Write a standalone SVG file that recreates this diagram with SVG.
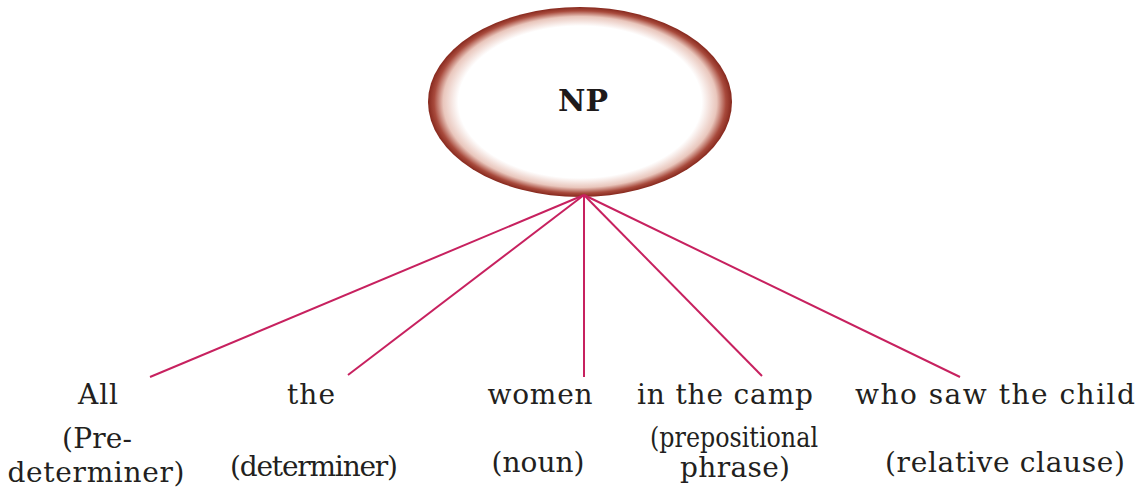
<svg xmlns="http://www.w3.org/2000/svg" width="1143" height="494" viewBox="0 0 1143 494">
<defs>
<radialGradient id="g" cx="0.5" cy="0.5" r="0.5">
<stop offset="0" stop-color="#ffffff"/>
<stop offset="0.8" stop-color="#ffffff"/>
<stop offset="0.9" stop-color="#e9c6bc"/>
<stop offset="0.96" stop-color="#a84a3c"/>
<stop offset="1" stop-color="#86281d"/>
</radialGradient>
<style>
.lbl{font-family:"DejaVu Serif","Liberation Serif",serif;font-size:28px;fill:#231f20;text-anchor:middle}
.np{font-family:"DejaVu Serif","Liberation Serif",serif;font-size:30px;font-weight:bold;fill:#1e1a1a;text-anchor:middle}
.c{stroke:#c7215f;stroke-width:2;fill:none}
</style>
</defs>
<g id="np">
<ellipse cx="580" cy="102" rx="152" ry="95" fill="url(#g)"/>
<text class="np" x="583" y="111">NP</text>
</g>
<g id="connectors">
<line class="c" x1="584" y1="195" x2="150" y2="377"/>
<line class="c" x1="584" y1="195" x2="348" y2="375"/>
<line class="c" x1="584" y1="195" x2="584" y2="377"/>
<line class="c" x1="584" y1="195" x2="762" y2="376"/>
<line class="c" x1="584" y1="195" x2="960" y2="377"/>
</g>
<g id="all">
<text class="lbl" x="98" y="404" textLength="40" lengthAdjust="spacing">All</text>
<text class="lbl" x="97" y="448" textLength="70" lengthAdjust="spacing">(Pre-</text>
<text class="lbl" x="96" y="482" textLength="177" lengthAdjust="spacing">determiner)</text>
</g>
<g id="the">
<text class="lbl" x="311" y="404" textLength="48" lengthAdjust="spacing">the</text>
<text class="lbl" x="314" y="476" textLength="168" lengthAdjust="spacing">(determiner)</text>
</g>
<g id="women">
<text class="lbl" x="540" y="404" textLength="105" lengthAdjust="spacing">women</text>
<text class="lbl" x="538" y="472" textLength="93" lengthAdjust="spacing">(noun)</text>
</g>
<g id="camp">
<text class="lbl" x="725" y="404" textLength="176" lengthAdjust="spacing">in the camp</text>
<text class="lbl" x="734" y="447" textLength="168" lengthAdjust="spacingAndGlyphs">(prepositional</text>
<text class="lbl" x="735" y="477" textLength="110" lengthAdjust="spacing">phrase)</text>
</g>
<g id="who">
<text class="lbl" x="995" y="404" textLength="280" lengthAdjust="spacing">who saw the  child</text>
<text class="lbl" x="1005" y="472" textLength="240" lengthAdjust="spacing">(relative  clause)</text>
</g>
</svg>
